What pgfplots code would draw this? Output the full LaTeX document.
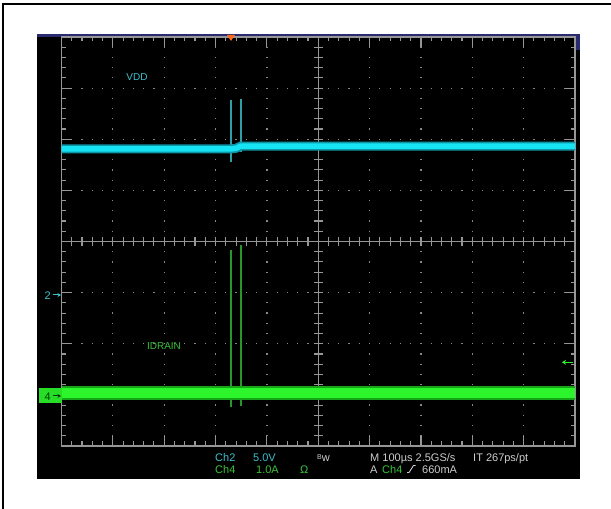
\documentclass[border=0pt]{standalone}
\usepackage{pgfplots}
\pgfplotsset{compat=1.18}
\usepackage{fontspec}
\setmainfont{Liberation Sans}
\usetikzlibrary{arrows.meta}

% scope screen palette
\definecolor{navy}{RGB}{42,42,112}
\definecolor{grat}{RGB}{150,150,150}
\definecolor{dotc}{RGB}{135,135,135}
\definecolor{chtwo}{RGB}{22,228,245}
\definecolor{chtwoedge}{RGB}{14,150,165}
\definecolor{chtwospike}{RGB}{45,160,165}
\definecolor{chtwotxt}{RGB}{60,192,204}
\definecolor{chfour}{RGB}{44,245,44}
\definecolor{chfouredge}{RGB}{22,165,22}
\definecolor{chfourspike}{RGB}{40,150,40}
\definecolor{chfourtxt}{RGB}{56,196,56}
\definecolor{rdout}{RGB}{205,205,205}
\definecolor{trig}{RGB}{255,106,26}

\begin{document}
\begin{tikzpicture}
\useasboundingbox (0,0) rectangle (611pt,509pt);
\fill[white] (0,0) rectangle (611pt,509pt);

% frame, screen and graticule (1 unit = 1 pixel, y downward)
\begin{scope}[x=1pt,y=-1pt,yshift=509pt]
  \draw[black, line width=2pt] (3,3.7) -- (611,3.7);
  \draw[black, line width=2pt] (3,2.7) -- (3,509);
  \fill[black] (37,34.5) rectangle (580,479);
  \fill[navy] (37,34) rectangle (580,37);
  \fill[navy] (575,34) rectangle (580,50);

  % dotted division lines
  \foreach \i in {1,2,3,4,6,7,8,9}
    \draw[dotc, line width=1.2pt, dash pattern=on 1.2pt off 9.025pt, dash phase=0.6pt]
      ({61.5+\i*51.35},37) -- ({61.5+\i*51.35},446);
  \foreach \j in {1,2,3,5,6,7}
    \draw[dotc, line width=1.2pt, dash pattern=on 1.2pt off 9.07pt, dash phase=0.6pt]
      (61.5,{37+\j*51.125}) -- (575,{37+\j*51.125});

  % centre cross with minor ticks
  \draw[grat, line width=1.2pt] (318.25,37) -- (318.25,446);
  \draw[grat, line width=1.2pt] (61.5,241.5) -- (575,241.5);
  \foreach \k in {1,...,49}
    \draw[grat, line width=1.1pt] ({61.5+\k*10.27},237) -- ({61.5+\k*10.27},246);
  \foreach \k in {1,...,39}
    \draw[grat, line width=1.1pt] (313.75,{37+\k*10.225}) -- (322.75,{37+\k*10.225});

  % border with inward ticks
  \draw[grat, line width=1.3pt] (61.5,37) rectangle (575,446);
  \foreach \k in {1,...,49}{
    \pgfmathsetmacro\L{ifthenelse(mod(\k,5)==0,10,4.5)}
    \draw[grat, line width=1.1pt] ({61.5+\k*10.27},37) -- ({61.5+\k*10.27},{37+\L});
    \draw[grat, line width=1.1pt] ({61.5+\k*10.27},446) -- ({61.5+\k*10.27},{446-\L});
  }
  \foreach \k in {1,...,39}{
    \pgfmathsetmacro\L{ifthenelse(mod(\k,5)==0,10,4.5)}
    \draw[grat, line width=1.1pt] (61.5,{37+\k*10.225}) -- ({61.5+\L},{37+\k*10.225});
    \draw[grat, line width=1.1pt] (575,{37+\k*10.225}) -- ({575-\L},{37+\k*10.225});
  }
\end{scope}

% traces: time in microseconds (100 us/div), Ch2 in volts (5 V/div, ground at -1 div),
% Ch4 in amperes (1 A/div, ground at -3 div)
\begin{axis}[
  at={(61.5pt,63pt)}, anchor=south west,
  scale only axis, width=513.5pt, height=409pt,
  xmin=-500, xmax=500, ymin=-4, ymax=4,
  axis lines=none, clip=false,
]
  % VDD (Ch2)
  \addplot[chtwospike, line width=1.5pt, y filter/.expression={y/5-1}]
    coordinates {(-169.9,18.84) (-169.9,12.78)};
  \addplot[chtwospike, line width=1.5pt, y filter/.expression={y/5-1}]
    coordinates {(-150.4,18.94) (-150.4,13.75)};
  \addplot[chtwoedge, line width=9pt, y filter/.expression={y/5-1}]
    coordinates {(-500,14.05) (-169.9,14.05) (-160,14.12) (-150.4,14.34) (500,14.34)};
  \addplot[chtwo, line width=5.5pt, y filter/.expression={y/5-1}]
    coordinates {(-500,14.05) (-169.9,14.05) (-160,14.12) (-150.4,14.34) (500,14.34)};

  % IDRAIN (Ch4)
  \addplot[chfourspike, line width=1.5pt, y filter/.expression={y-3}]
    coordinates {(-169.9,2.83) (-169.9,-0.24)};
  \addplot[chfourspike, line width=1.5pt, y filter/.expression={y-3}]
    coordinates {(-150.4,2.93) (-150.4,-0.22)};
  \addplot[chfouredge, line width=14pt, y filter/.expression={y-3}]
    coordinates {(-500,0.04) (500,0.04)};
  \addplot[chfour, line width=10pt, y filter/.expression={y-3}]
    coordinates {(-500,0.04) (500,0.04)};
\end{axis}

% labels, channel markers and readout
\begin{scope}[x=1pt,y=-1pt,yshift=509pt]
  \fill[trig] (227,35) -- (235,35) -- (231,41) -- cycle;

  \node[chtwotxt, font=\fontsize{10}{12}\selectfont] at (137,77) {VDD};
  \node[chfourtxt, font=\fontsize{10}{12}\selectfont] at (164,346) {IDRAIN};

  % channel ground markers
  \node[chtwotxt, anchor=base west, inner sep=0pt, font=\fontsize{11}{13}\selectfont] at (44.5,300) {2};
  \draw[chtwotxt, line width=1pt, -{Stealth[length=3.5pt,width=4pt]}] (52.5,295) -- (61,295);
  \fill[chfour!90!black] (38.5,388) rectangle (62,403.5);
  \node[black!75!green, anchor=base west, inner sep=0pt, font=\fontsize{11}{13}\selectfont] at (44.5,400.5) {4};
  \draw[black!75!green, line width=1pt, -{Stealth[length=3.5pt,width=4pt]}] (52.5,396) -- (61,396);
  \draw[chfour, line width=1.5pt, -{Stealth[length=4pt,width=5pt]}] (573,362.3) -- (562,362.3);

  % readout
  \begin{scope}[every node/.style={anchor=base west, inner sep=0pt, font=\fontsize{11}{13}\selectfont}]
    \node[chtwotxt] at (215,461.7) {Ch2};
    \node[chtwotxt] at (253,461.7) {5.0V};
    \node[rdout] at (317,461.7) {{\fontsize{7}{8}\selectfont\raisebox{2.5pt}{B}}w};
    \node[rdout] at (370,461.7) {M 100µs 2.5GS/s};
    \node[rdout] at (473,461.7) {IT 267ps/pt};
    \node[chfourtxt] at (215,473.3) {Ch4};
    \node[chfourtxt] at (256,473.3) {1.0A};
    \node[chfourtxt] at (300,473.3) {Ω};
    \node[rdout] at (370,473.3) {A};
    \node[chfourtxt] at (382,473.3) {Ch4};
    \node[rdout] at (422,473.3) {660mA};
  \end{scope}
  \draw[rdout, line width=0.9pt] (407,472.5) -- (409,472.5) -- (413.5,465.5) -- (415.5,465.5);
\end{scope}
\end{tikzpicture}
\end{document}
